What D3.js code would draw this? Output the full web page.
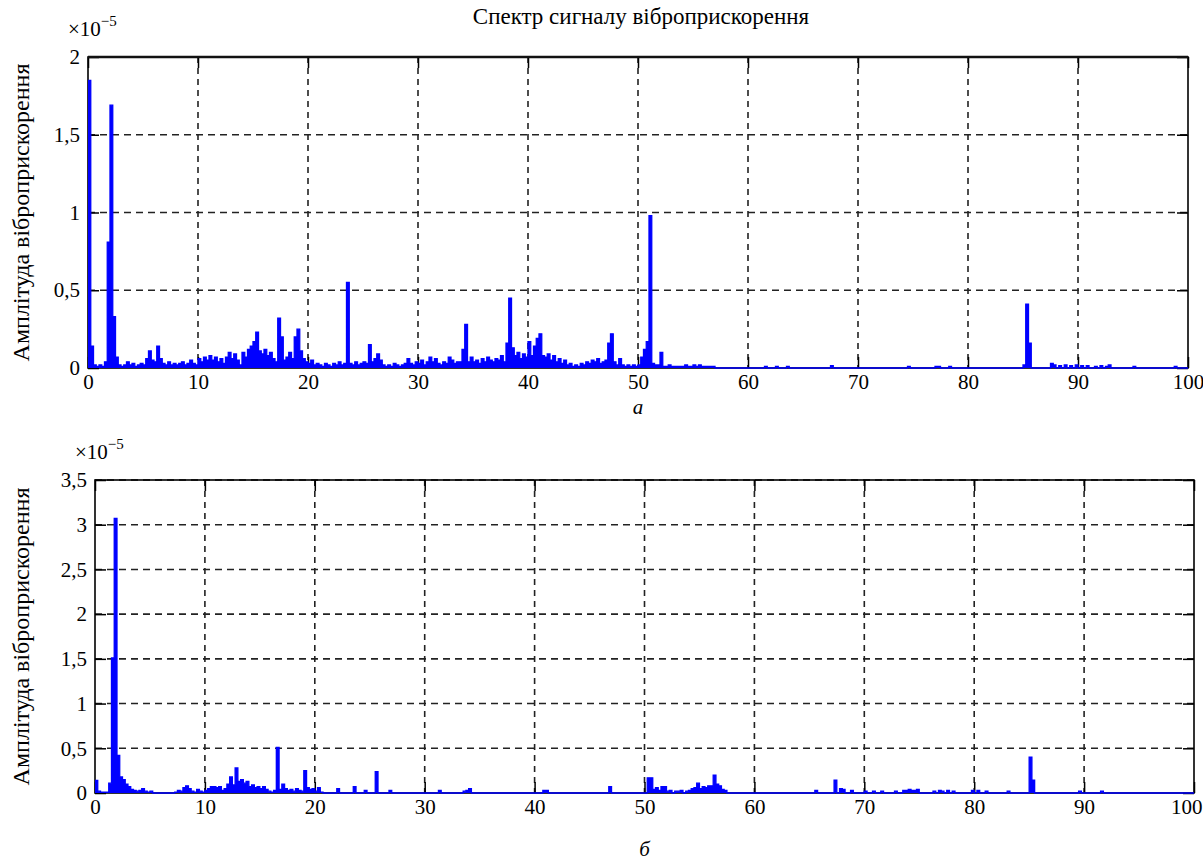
<!DOCTYPE html>
<html>
<head>
<meta charset="utf-8">
<script src="https://cdn.jsdelivr.net/npm/d3@7"></script>
<style>
  body { margin: 0; background: #fff; }
  svg text { font-family: "Liberation Serif", "Times New Roman", serif; fill: #000; }
</style>
</head>
<body>
<svg id="chart" width="1203" height="862"></svg>
<script>
// дані (амплітуда у одиницях 1e-5)
const chartTitle = 'Спектр сигналу віброприскорення';
const yLabel = 'Амплітуда віброприскорення';
const xTicks = [0, 10, 20, 30, 40, 50, 60, 70, 80, 90, 100];
const yTicksA = [0, 0.5, 1, 1.5, 2];
const yTickLabelsA = ['0', '0,5', '1', '1,5', '2'];
const yTicksB = [0, 0.5, 1, 1.5, 2, 2.5, 3, 3.5];
const yTickLabelsB = ['0', '0,5', '1', '1,5', '2', '2,5', '3', '3,5'];
const binStep = 0.25; // крок по частоті, Гц

// панель а: 0 .. 56.75 Гц, 4 відліки на 1 Гц
const ampA = [
  1.85, 0.14, 0.02, 0.01,
  0.02, 0.01, 0.04, 0.81,
  1.69, 0.33, 0.07, 0.02,
  0.01, 0.02, 0.04, 0.02,
  0.03, 0.01, 0.02, 0.03,
  0.02, 0.06, 0.11, 0.05,
  0.04, 0.14, 0.06, 0.03,
  0.02, 0.04, 0.02, 0.03,
  0.02, 0.03, 0.04, 0.02,
  0.03, 0.05, 0.03, 0.02,
  0.06, 0.04, 0.07, 0.05,
  0.08, 0.05, 0.07, 0.04,
  0.06, 0.03, 0.07, 0.10,
  0.06, 0.09, 0.05, 0.02,
  0.10, 0.07, 0.12, 0.14,
  0.17, 0.23, 0.11, 0.09,
  0.12, 0.08, 0.10, 0.06,
  0.04, 0.32, 0.20, 0.05,
  0.07, 0.10, 0.06, 0.20,
  0.25, 0.11, 0.06, 0.04,
  0.03, 0.05, 0.02, 0.03,
  0.02, 0.01, 0.03, 0.02,
  0.01, 0.03, 0.02, 0.04,
  0.02, 0.03, 0.55, 0.03,
  0.02, 0.04, 0.02, 0.03,
  0.04, 0.03, 0.15, 0.04,
  0.06, 0.09, 0.05, 0.02,
  0.01, 0.02, 0.01, 0.03,
  0.02, 0.01, 0.02, 0.03,
  0.06, 0.03, 0.02, 0.04,
  0.03, 0.05, 0.02, 0.04,
  0.07, 0.04, 0.06, 0.03,
  0.02, 0.04, 0.03, 0.07,
  0.05, 0.03, 0.04, 0.04,
  0.12, 0.28, 0.04, 0.07,
  0.04, 0.05, 0.03, 0.06,
  0.04, 0.07, 0.05, 0.04,
  0.06, 0.05, 0.08, 0.04,
  0.16, 0.45, 0.13, 0.08,
  0.10, 0.06, 0.09, 0.07,
  0.17, 0.08, 0.14, 0.19,
  0.22, 0.08, 0.07, 0.09,
  0.05, 0.08, 0.04, 0.06,
  0.03, 0.05, 0.02, 0.03,
  0.01, 0.02, 0.01, 0.03,
  0.02, 0.04, 0.03, 0.05,
  0.04, 0.06, 0.03, 0.04,
  0.05, 0.16, 0.22, 0.04,
  0.02, 0.06, 0.02, 0.01,
  0.02, 0.01, 0.02, 0.01,
  0.02, 0.07, 0.12, 0.17,
  0.98, 0.03, 0.02, 0.02,
  0.10, 0.01, 0.01, 0.02,
  0.01, 0.01, 0.01, 0.01,
  0.01, 0.02, 0.01, 0.01,
  0.02, 0.01, 0.02, 0.01,
  0.01, 0.01, 0.01, 0.01
];
// окремі піки вище 57 Гц
const tailFreqA = [61.5, 62.5, 63.5, 67.5, 74.5, 77.0, 77.25, 78.25, 85.0, 85.25, 85.5, 87.5, 87.75,
  88.25, 88.75, 89.25, 89.75, 90.25, 90.75, 91.5, 92.0, 92.5, 92.75, 95.0, 98.75];
const tailAmpA = [0.01, 0.01, 0.01, 0.015, 0.01, 0.01, 0.01, 0.01, 0.02, 0.41, 0.16, 0.03, 0.02,
  0.015, 0.02, 0.015, 0.02, 0.015, 0.015, 0.01, 0.015, 0.01, 0.02, 0.01, 0.01];

// панель б: 0 .. 20.75 Гц
const ampB = [
  0.14, 0.02, 0.01, 0.01,
  0.01, 0.11, 1.51, 3.07,
  0.42, 0.18, 0.15, 0.10,
  0.07, 0.04, 0.03, 0.02,
  0.03, 0.05, 0.02, 0.01,
  0.02, 0, 0, 0,
  0, 0, 0, 0,
  0, 0.01, 0.03, 0.02,
  0.06, 0.08, 0.05, 0.02,
  0.01, 0.04, 0.02, 0.01,
  0.03, 0.05, 0.07, 0.07,
  0.06, 0.07, 0.03, 0.05,
  0.10, 0.18, 0.09, 0.28,
  0.13, 0.15, 0.11, 0.13,
  0.07, 0.09, 0.06, 0.07,
  0.05, 0.07, 0.04, 0.02,
  0.01, 0.03, 0.51, 0.04,
  0.10, 0.05, 0.03, 0.04,
  0.02, 0.05, 0.03, 0.02,
  0.25, 0.06, 0.04, 0.05,
  0.02, 0.06, 0.01, 0
];
const tailFreqB = [22.0, 23.5, 24.5, 25.5, 26.75, 31.25, 33.5, 33.75, 34.0, 40.75, 41.0, 46.75,
  50.25, 50.5, 50.75, 51.0, 51.25, 51.5, 51.75, 52.0, 52.25, 52.75, 53.0, 53.25, 53.75,
  54.0, 54.25, 54.5, 54.75, 55.0, 55.25, 55.5, 55.75, 56.0, 56.25, 56.5, 56.75, 57.0, 57.25,
  65.5, 67.25, 67.75, 68.0, 68.75, 70.0, 70.75, 71.5, 72.75, 73.5, 73.75, 74.0, 74.25, 74.5, 74.75,
  76.25, 76.75, 77.0, 77.5, 78.0, 79.75, 80.25, 81.0, 83.0, 85.0, 85.25, 89.5, 91.5];
const tailAmpB = [0.05, 0.07, 0.03, 0.24, 0.03, 0.03, 0.02, 0.03, 0.05, 0.03, 0.03, 0.07,
  0.17, 0.17, 0.04, 0.06, 0.03, 0.07, 0.07, 0.02, 0.03, 0.02, 0.02, 0.03, 0.02,
  0.03, 0.05, 0.06, 0.11, 0.05, 0.07, 0.06, 0.08, 0.08, 0.20, 0.10, 0.08, 0.04, 0.03,
  0.03, 0.145, 0.05, 0.04, 0.03, 0.02, 0.02, 0.02, 0.02, 0.03, 0.03, 0.04, 0.03, 0.03, 0.04,
  0.02, 0.03, 0.02, 0.03, 0.02, 0.03, 0.03, 0.02, 0.02, 0.40, 0.145, 0.02, 0.02];

// спектр на сітці 0..100 Гц
var buildSeries = function(amp, tailF, tailA) {
    const n = Math.round(100 / binStep);
    const vals = new Array(n + 1).fill(0);
    amp.forEach((v, i) => { vals[i] = v; });
    tailF.forEach((f, k) => { vals[Math.round(f / binStep)] = tailA[k]; });
    return vals.map((v, i) => ({ f: i * binStep, a: v }));
};

const svg = d3.select('#chart');
const FONT = 'Liberation Serif, Times New Roman, serif';

var drawPanel = function(p) {
    const x = d3.scaleLinear().domain([0, 100]).range([p.left, p.right]);
    const y = d3.scaleLinear().domain([0, p.yMax]).range([p.bottom, p.top]);
    const g = svg.append('g');

    // сітка
    g.selectAll('.vgrid')
        .data(xTicks.filter(d => d > 0 && d < 100))
        .enter().append('line')
        .attr('x1', d => x(d)).attr('x2', d => x(d))
        .attr('y1', p.top).attr('y2', p.bottom)
        .attr('stroke', '#222').attr('stroke-width', 1.6)
        .attr('stroke-dasharray', '6,5');
    g.selectAll('.hgrid')
        .data(p.yTicks.filter(d => d > 0))
        .enter().append('line')
        .attr('x1', p.left).attr('x2', p.right)
        .attr('y1', d => y(d)).attr('y2', d => y(d))
        .attr('stroke', '#222').attr('stroke-width', 1.6)
        .attr('stroke-dasharray', '7,5');

    // осі
    const axisStyle = sel => {
        sel.attr('font-family', FONT);
        sel.select('.domain').remove();
        sel.selectAll('line').attr('stroke', '#000').attr('stroke-width', 1.5);
        sel.selectAll('text').attr('font-size', '21px').attr('fill', '#000');
    };
    const xAxis = g.append('g').attr('transform', `translate(0,${p.bottom})`)
        .call(d3.axisBottom(x).tickValues(xTicks).tickSize(-11).tickPadding(6))
        .call(axisStyle);
    if (p.lastLabelEnd) {
        // остання мітка не повинна виходити за край
        xAxis.selectAll('.tick').filter(d => d === 100).select('text')
            .attr('text-anchor', 'end').attr('x', p.lastLabelEnd - p.right);
    }
    g.append('g').attr('transform', `translate(0,${p.top})`)
        .call(d3.axisTop(x).tickValues(xTicks).tickSize(-11).tickFormat(''))
        .call(axisStyle);
    g.append('g').attr('transform', `translate(${p.left},0)`)
        .call(d3.axisLeft(y).tickValues(p.yTicks).tickSize(-11).tickPadding(8)
            .tickFormat((d, i) => p.yLabels[i]))
        .call(axisStyle);
    g.append('g').attr('transform', `translate(${p.right},0)`)
        .call(d3.axisRight(y).tickValues(p.yTicks).tickSize(-11).tickFormat(''))
        .call(axisStyle);

    g.append('rect')
        .attr('x', p.left).attr('y', p.top)
        .attr('width', p.right - p.left).attr('height', p.bottom - p.top)
        .attr('fill', 'none').attr('stroke', '#000').attr('stroke-width', 1.6);
    if (p.title) {
        // верхня межа товща через накладену сітку
        g.append('line')
            .attr('x1', p.left).attr('x2', p.right)
            .attr('y1', p.top).attr('y2', p.top)
            .attr('stroke', '#111').attr('stroke-width', 2.6);
    }

    // спектр
    const area = d3.area()
        .x(d => x(d.f)).y0(y(0)).y1(d => y(d.a))
        .curve(d3.curveStepAfter);
    const line = d3.line()
        .x(d => x(d.f)).y(d => y(d.a))
        .curve(d3.curveStepAfter);
    g.append('path').datum(p.data)
        .attr('d', area).attr('fill', '#0000ff');
    g.append('path').datum(p.data)
        .attr('d', line).attr('fill', 'none')
        .attr('stroke', '#0000ff').attr('stroke-width', 1.3);

    // підписи
    const exp = g.append('text')
        .attr('x', p.left - 20).attr('y', p.top - 21)
        .attr('font-family', FONT)
        .attr('font-size', '21px');
    exp.append('tspan').text('×10');
    exp.append('tspan').attr('dy', -10).attr('font-size', '15px').text('−5');

    g.append('text')
        .attr('transform', `translate(29,${(p.top + p.bottom) / 2}) rotate(-90)`)
        .attr('text-anchor', 'middle')
        .attr('font-family', FONT)
        .attr('font-size', '24px')
        .text(yLabel);

    g.append('text')
        .attr('x', x(50)).attr('y', p.captionY)
        .attr('text-anchor', 'middle')
        .attr('font-family', FONT)
        .attr('font-size', '21px').attr('font-style', 'italic')
        .text(p.caption);

    if (p.title) {
        g.append('text')
            .attr('x', 641).attr('y', 24)
            .attr('text-anchor', 'middle')
            .attr('font-family', FONT)
            .attr('font-size', '23px')
            .text(p.title);
    }
};

drawPanel({
    left: 88, right: 1188, top: 57, bottom: 368,
    yMax: 2, yTicks: yTicksA, yLabels: yTickLabelsA,
    data: buildSeries(ampA, tailFreqA, tailAmpA),
    caption: 'а', captionY: 414, title: chartTitle
});
drawPanel({
    left: 95, right: 1194, top: 480, bottom: 793,
    yMax: 3.5, yTicks: yTicksB, yLabels: yTickLabelsB,
    data: buildSeries(ampB, tailFreqB, tailAmpB),
    caption: 'б', captionY: 856, lastLabelEnd: 1202
});
</script>
</body>
</html>
